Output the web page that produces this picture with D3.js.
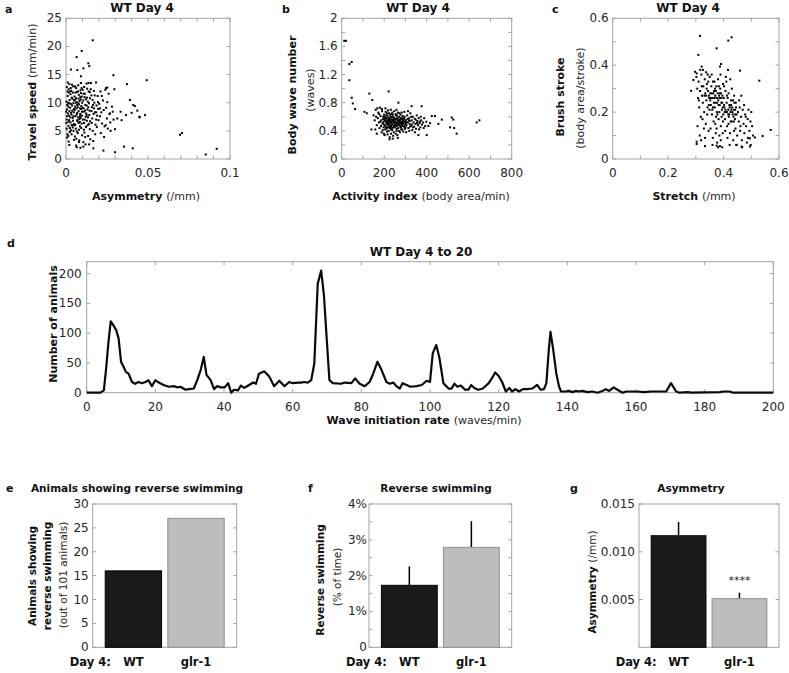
<!DOCTYPE html>
<html><head><meta charset="utf-8">
<script src="https://cdn.jsdelivr.net/npm/d3@7"></script>
<style>
body{margin:0;background:#fff;}
svg text{font-family:"DejaVu Sans",sans-serif;fill:#262626;}
.b{font-weight:bold;fill:#111;}
</style></head><body>
<svg id="c" width="789" height="673"></svg>
<script>
// ---------- DATA ----------
// a: Asymmetry (/mm) vs Travel speed (mm/min)
const asymSpeed = [
[0.0163,21.1],[0.0096,19.2],[0.0065,18.1],[0.0136,17.0],[0.0142,16.5],[0.0106,16.1],[0.003,15.9],[0.0069,15.8],
[0.0289,14.9],[0.0492,14.0],[0.0091,14.7],[0.0372,13.3],[0.0244,12.6],[0.0252,12.7],[0.039,10.5],[0.041,9.6],
[0.0333,8.4],[0.0366,7.8],[0.04,8.2],[0.0435,8.6],[0.0447,7.5],[0.042,9.4],[0.0482,7.8],[0.045,7.4],[0.0339,6.9],
[0.0299,5.3],[0.0695,4.3],[0.0707,4.6],[0.0919,1.8],[0.0852,0.8],[0.0407,1.9],[0.0354,2.2],[0.0299,1.2],[0.0228,1.5],
[0.0167,1.9],[0.0106,2.2],[0.0065,2.1],[0.002,2.5],[0.0049,3.4],[0.0014,4.1],[0.0313,7.2],[0.0268,8.1],[0.0207,9.0],
[0.0005,12.8],[0.001,11.2],[0.0008,9.6],[0.0012,8.1],[0.0004,7.0],[0.0015,5.9],[0.0009,4.4],[0.002,13.3],[0.0022,10.5],
[0.0025,9.1],[0.0018,7.7],[0.0028,6.5],[0.003,5.1],[0.0032,12.1],[0.0035,10.9],[0.0038,8.6],[0.004,7.3],[0.0042,11.8],
[0.0045,9.9],[0.0048,6.2],[0.0003,10.2],[0.0006,8.8],[0.0011,13.6],[0.0016,12.4],[0.0019,6.9],[0.0024,4.8],[0.0027,11.5],
[0.0033,7.9],[0.0037,9.5],[0.0041,5.6],[0.0044,12.9],[0.0047,8.3],[0.0002,6.4],[0.0013,10.0],[0.0021,8.5],[0.0029,9.8],
[0.0036,13.2],[0.0043,6.8],[0.0049,10.4],[0.0007,3.8],
[0.0052,11.1],[0.0055,9.3],[0.0058,7.6],[0.006,5.4],[0.0062,12.6],[0.0065,10.1],[0.0068,8.2],[0.007,6.7],[0.0072,4.6],
[0.0075,13.1],[0.0078,11.4],[0.008,9.7],[0.0082,7.1],[0.0085,5.8],[0.0088,12.2],[0.009,10.6],[0.0092,8.9],[0.0095,6.3],
[0.0098,4.2],[0.0053,8.7],[0.0057,6.1],[0.0063,3.6],[0.0067,11.9],[0.0071,9.2],[0.0074,7.4],[0.0079,5.2],[0.0083,10.3],
[0.0087,8.0],[0.0091,11.7],[0.0094,9.4],[0.0097,7.7],[0.0056,12.9],[0.0061,10.8],[0.0069,6.9],[0.0077,8.5],[0.0084,6.6],
[0.0093,5.5],[0.0099,10.0],[0.0066,4.9],[0.0081,3.3],
[0.0102,12.3],[0.0105,10.4],[0.0108,8.4],[0.011,6.4],[0.0112,4.7],[0.0115,11.6],[0.0118,9.6],[0.012,7.5],[0.0122,5.7],
[0.0125,13.4],[0.0128,10.9],[0.013,8.8],[0.0132,6.0],[0.0135,4.1],[0.0138,12.0],[0.014,9.9],[0.0142,7.8],[0.0145,5.3],
[0.0148,3.5],[0.0103,7.0],[0.0107,9.0],[0.0113,11.0],[0.0117,3.9],[0.0123,8.1],[0.0127,6.8],[0.0133,10.2],[0.0137,13.5],
[0.0143,8.6],[0.0147,6.7],[0.0111,12.8],
[0.0152,13.5],[0.0155,11.3],[0.0158,9.2],[0.016,7.2],[0.0163,5.0],[0.0166,3.2],[0.017,12.1],[0.0173,10.0],[0.0176,8.3],
[0.018,6.1],[0.0183,13.6],[0.0186,9.5],[0.019,7.7],[0.0193,11.2],[0.0196,8.9],[0.0168,8.0],[0.0178,4.4],[0.0188,5.7],
[0.0198,6.9],[0.0162,10.5],
[0.0203,9.8],[0.0207,7.6],[0.021,12.0],[0.0215,8.3],[0.022,6.3],[0.0225,10.4],[0.023,8.7],[0.0235,5.8],[0.024,12.3],
[0.0245,9.1],[0.025,7.2],[0.0255,5.4],[0.026,11.6],[0.0265,8.0],[0.027,6.5],[0.028,9.3],[0.029,7.0],[0.0295,12.4],
[0.0212,4.6],[0.0232,3.9],[0.0252,10.1],[0.0272,5.0],[0.0285,8.4],[0.0218,11.2],[0.0242,6.0],
[0.0014,9.3],[0.0026,7.4],[0.0039,10.7],[0.0051,6.0],[0.0064,9.0],[0.0076,10.7],[0.0089,7.3],[0.0101,9.1],[0.0114,7.0],
[0.0126,9.5],[0.0139,6.2],[0.0001,8.4],[0.0017,11.8],[0.0031,8.2],[0.0046,5.0],[0.0059,10.0],[0.0073,12.0],[0.0086,9.0],
[0.0096,11.1],[0.0109,5.2],[0.0121,10.6],[0.0134,7.4],[0.0146,10.8],[0.0157,6.4],[0.0171,9.0],[0.0184,7.0],[0.0023,5.5],
[0.0034,4.4],[0.0054,4.0],[0.0079,3.0],[0.0106,3.0],[0.0119,2.6],[0.0141,2.6],[0.0004,5.4],[0.0016,3.1],[0.0062,2.4],
[0.0088,2.0],[0.0129,12.5],[0.0151,12.4],[0.0091,13.5],
[0.0009,12.0],[0.0019,9.9],[0.0029,12.6],[0.0039,6.0],[0.0049,8.9],[0.0058,11.8],[0.0068,9.6],[0.0078,6.4],[0.0087,11.0],
[0.0097,8.4],[0.0107,11.6],[0.0116,8.6],[0.0126,7.8],[0.0136,9.2],[0.0145,11.9],[0.0155,8.5],[0.0165,9.6],[0.0175,11.3],
[0.0185,8.3],[0.0195,10.1],[0.0005,7.6],[0.0015,6.6],[0.0025,12.0],[0.0035,6.0],[0.0045,7.6],[0.0055,10.5],[0.0065,7.9],
[0.0075,9.9],[0.0085,7.6],[0.0095,12.6]
];
// b: Activity index (body area/min) vs Body wave number (waves)
const activityWave = [
[12,1.68],[20,1.68],[47,1.38],[36,1.35],[36,1.12],[47,0.87],[52,0.79],[63,0.71],[130,0.93],[144,0.84],[107,0.67],[118,0.65],
[221,0.96],[267,0.80],[329,0.75],[376,0.75],[424,0.61],[439,0.61],[471,0.56],[518,0.59],[525,0.56],[455,0.50],[416,0.51],
[408,0.47],[361,0.34],[400,0.34],[510,0.45],[529,0.44],[541,0.36],[635,0.52],[648,0.55],[322,0.46],[140,0.42],[165,0.36],
[150,0.62],[155,0.55],[160,0.70],[165,0.48],[170,0.58],[172,0.66],[175,0.52],[178,0.44],[180,0.73],[183,0.61],[186,0.55],
[188,0.38],[190,0.68],[192,0.50],[195,0.57],[197,0.45],[199,0.63],[158,0.42],[168,0.72],[185,0.47],[193,0.41],[176,0.64],
[162,0.60],[189,0.71],[198,0.36],
[201,0.54],[203,0.60],[205,0.47],[207,0.67],[209,0.52],[211,0.43],[213,0.58],[215,0.62],[217,0.49],[219,0.55],[221,0.40],
[223,0.65],[225,0.51],[227,0.57],[229,0.46],[231,0.70],[233,0.53],[235,0.60],[237,0.44],[239,0.49],[241,0.63],[243,0.55],
[245,0.38],[247,0.58],[249,0.50],[202,0.34],[206,0.72],[210,0.62],[214,0.39],[218,0.69],[222,0.56],[226,0.31],[230,0.59],
[234,0.47],[238,0.66],[242,0.33],[246,0.52],[204,0.57],[212,0.49],[220,0.52],[228,0.62],[236,0.56],[244,0.45],[248,0.68],
[216,0.35],[224,0.46],[232,0.42],[240,0.54],[208,0.45],[225,0.28],[240,0.29],[232,0.36],
[251,0.56],[253,0.47],[255,0.62],[257,0.52],[259,0.43],[261,0.58],[263,0.50],[265,0.66],[267,0.54],[269,0.40],[271,0.60],
[273,0.48],[275,0.55],[277,0.63],[279,0.45],[281,0.52],[283,0.58],[285,0.42],[287,0.61],[289,0.50],[291,0.55],[293,0.46],
[295,0.67],[297,0.53],[299,0.48],[254,0.36],[258,0.70],[262,0.34],[266,0.44],[270,0.52],[274,0.38],[278,0.51],[282,0.66],
[286,0.49],[290,0.39],[294,0.58],[298,0.43],[256,0.57],[264,0.30],[272,0.65],[280,0.57],[288,0.55],[296,0.60],[260,0.51],
[276,0.46],[284,0.53],
[302,0.55],[305,0.48],[308,0.62],[311,0.52],[314,0.44],[317,0.58],[320,0.50],[323,0.65],[326,0.47],[329,0.55],[332,0.41],
[335,0.60],[338,0.52],[341,0.46],[344,0.57],[347,0.50],[350,0.43],[353,0.62],[356,0.54],[359,0.48],[362,0.58],[366,0.51],
[370,0.45],[374,0.55],[378,0.49],[383,0.52],[388,0.58],[393,0.47],[398,0.53],[304,0.38],[312,0.68],[318,0.40],[327,0.60],
[336,0.45],[345,0.38],[354,0.51],[364,0.42],[372,0.60],[386,0.44],[310,0.57],[330,0.49],[348,0.56],[368,0.53],
[215,0.50],[225,0.54],[235,0.52],[245,0.56],[255,0.50],[265,0.48],[275,0.51],[285,0.47],[230,0.48],[250,0.45],[270,0.56],
[260,0.62],[240,0.60],[220,0.59],[210,0.55],[200,0.49],[195,0.52],[205,0.42],[290,0.52],[300,0.51],
[182,0.53],[196,0.60],[208,0.58],[214,0.53],[222,0.49],[228,0.54],[236,0.50],[244,0.59],[252,0.53],[258,0.47],[266,0.59],
[274,0.52],[282,0.49],[292,0.57],[306,0.52],[316,0.55],[226,0.44],[246,0.47],[262,0.55],[278,0.58],[234,0.64],[254,0.64],
[218,0.45],[238,0.41],[258,0.40],[280,0.42],[300,0.45],[320,0.54],[212,0.65],[268,0.50]
];
// c: Stretch (/mm) vs Brush stroke (body area/stroke)
const stretchBrush = [
[0.315,0.525],[0.309,0.444],[0.375,0.472],[0.417,0.505],[0.429,0.519],[0.391,0.405],[0.387,0.394],[0.459,0.377],
[0.529,0.334],[0.570,0.124],[0.541,0.098],[0.513,0.092],[0.495,0.088],[0.495,0.053],[0.465,0.053],[0.447,0.060],
[0.303,0.074],[0.303,0.064],[0.333,0.055],[0.375,0.057],[0.387,0.055],[0.283,0.291],[0.291,0.337],[0.297,0.372],
[0.303,0.365],[0.321,0.394],
[0.302,0.35],[0.305,0.30],[0.308,0.26],[0.31,0.33],[0.312,0.22],[0.315,0.29],[0.318,0.18],[0.32,0.36],[0.322,0.27],
[0.325,0.24],[0.327,0.31],[0.33,0.20],[0.332,0.34],[0.334,0.28],[0.336,0.15],[0.338,0.25],[0.34,0.32],[0.342,0.22],
[0.344,0.29],[0.346,0.12],[0.348,0.26],[0.35,0.35],[0.306,0.14],[0.314,0.10],[0.319,0.08],[0.324,0.17],[0.329,0.13],
[0.333,0.09],[0.337,0.37],[0.341,0.19],[0.345,0.33],[0.349,0.21],[0.316,0.38],[0.326,0.38],[0.331,0.27],[0.339,0.30],
[0.347,0.27],[0.311,0.25],[0.321,0.31],[0.343,0.36],
[0.352,0.28],[0.354,0.23],[0.356,0.31],[0.358,0.19],[0.36,0.26],[0.362,0.33],[0.364,0.16],[0.366,0.29],[0.368,0.22],
[0.37,0.27],[0.372,0.11],[0.374,0.31],[0.376,0.20],[0.378,0.26],[0.38,0.34],[0.382,0.17],[0.384,0.27],[0.386,0.23],
[0.388,0.30],[0.39,0.14],[0.392,0.26],[0.394,0.21],[0.396,0.27],[0.398,0.32],[0.353,0.13],[0.357,0.36],[0.361,0.09],
[0.365,0.24],[0.369,0.30],[0.373,0.18],[0.377,0.07],[0.381,0.25],[0.385,0.20],[0.389,0.36],[0.393,0.18],[0.397,0.11],
[0.355,0.26],[0.363,0.28],[0.371,0.24],[0.379,0.28],[0.387,0.26],[0.395,0.24],[0.359,0.21],[0.367,0.33],[0.375,0.26],
[0.383,0.31],[0.391,0.28],[0.399,0.19],[0.36,0.06],[0.37,0.15],[0.38,0.05],[0.39,0.08],[0.375,0.13],[0.385,0.10],[0.395,0.05],
[0.401,0.26],[0.403,0.22],[0.405,0.17],[0.407,0.29],[0.409,0.20],[0.411,0.24],[0.413,0.14],[0.415,0.26],[0.417,0.21],
[0.419,0.18],[0.421,0.23],[0.423,0.11],[0.425,0.20],[0.427,0.25],[0.429,0.16],[0.431,0.22],[0.433,0.19],[0.435,0.08],
[0.437,0.21],[0.439,0.24],[0.441,0.17],[0.443,0.13],[0.445,0.22],[0.447,0.19],[0.449,0.10],[0.402,0.31],[0.406,0.12],
[0.41,0.33],[0.414,0.09],[0.418,0.28],[0.422,0.06],[0.426,0.16],[0.43,0.30],[0.434,0.25],[0.438,0.12],[0.442,0.21],
[0.446,0.06],[0.404,0.20],[0.412,0.20],[0.42,0.19],[0.428,0.21],[0.436,0.18],[0.444,0.24],[0.408,0.35],[0.416,0.38],[0.424,0.34],
[0.452,0.20],[0.455,0.16],[0.458,0.22],[0.46,0.12],[0.463,0.18],[0.466,0.08],[0.469,0.21],[0.472,0.15],[0.475,0.11],
[0.478,0.19],[0.481,0.14],[0.484,0.07],[0.487,0.17],[0.49,0.21],[0.493,0.12],[0.497,0.16],[0.5,0.20],[0.503,0.14],
[0.506,0.10],[0.456,0.25],[0.464,0.27],[0.474,0.23],[0.488,0.09],[0.498,0.06],[0.461,0.14],[0.467,0.05],[0.48,0.18],
[0.352,0.25],[0.362,0.22],[0.372,0.29],[0.382,0.23],[0.392,0.24],[0.402,0.23],[0.412,0.27],[0.422,0.22],[0.432,0.20],
[0.442,0.19],[0.357,0.28],[0.367,0.26],[0.377,0.24],[0.387,0.28],[0.397,0.22],[0.407,0.21],[0.417,0.19],[0.427,0.23],
[0.437,0.16],[0.347,0.23],[0.337,0.27],[0.378,0.19],[0.398,0.16],[0.418,0.15],[0.438,0.27]
];
// d: Wave initiation rate (waves/min) vs Number of animals
const waveRate = [
[0,0],[4,0],[5,4],[5.7,43],[6.3,83],[7,120],[7.8,113],[8.6,105],[9.3,91],[10,52],[10.7,44],[11.4,35],[12.2,32],[13.2,18],
[14.1,15],[15.1,18],[16.1,16],[17.1,18],[18,21],[19,11],[20,21],[21,17],[22.4,13],[23.9,10],[25.4,11],[26.3,9],[27.3,10],
[28.8,5],[29.8,6],[31.2,7],[32.2,21],[33.2,38],[34.1,60],[34.9,30],[36.1,21],[37.1,6],[38,11],[39,9],[40.2,9],[41.2,16],
[42.1,0],[42.9,5],[44.1,4],[44.9,12],[45.9,8],[47.3,13],[48.5,17],[49.3,15],[50.2,32],[51.7,36],[53.2,27],[54.6,11],
[56.1,20],[57.6,11],[59,18],[60,16],[61.5,17],[62.4,17],[63.4,18],[64.4,17],[65.4,21],[66.3,49],[67.3,183],[68.3,205],
[69.1,164],[70,83],[70.7,21],[71.7,16],[74.1,15],[75.1,17],[77.1,16],[78.2,24],[79.5,15],[81,11],[82.4,18],[83.4,31],
[84.7,52],[85.9,38],[87.3,18],[88.3,15],[89.3,17],[90.2,11],[91.2,7],[92,16],[93.2,13],[94.3,10],[96.1,11],[97.6,13],
[99,20],[100,18],[100.8,66],[101.8,80],[102.7,60],[103.9,16],[105.4,7],[106.3,7],[107.1,15],[108,10],[109,12],[110.2,5],
[111.2,5],[112,13],[112.9,8],[114,5],[115.4,7],[117.1,16],[118,24],[119,34],[120,28],[121,18],[122.1,2],[123.1,8],
[123.9,2],[124.9,6],[125.9,2],[127.1,6],[128.3,6],[129.8,7],[131.2,13],[132.2,5],[133.2,6],[133.9,16],[134.6,72],
[135.1,102],[135.9,72],[136.8,32],[137.6,10],[138.2,2],[139.5,2],[140.5,3],[141.5,1],[142.4,3],[143.4,2],[144.4,3],
[145.9,1],[147.3,2],[148.8,0],[150.2,3],[151.2,6],[152.2,3],[153.5,9],[154.6,5],[156.1,0],[157.1,2],[158.5,2],[160.5,2],
[162.4,1],[164.4,2],[166.3,2],[168.8,2],[170.2,16],[171.7,2],[172.7,0],[175.1,1],[176.1,0],[184.4,1],[185.5,2],[187.3,2],
[188.3,0],[200,0]
];
// e, f, g: bar charts
const strains = ["WT", "glr-1"];
const animalsReverse = [16, 27];          // out of 101 animals
const reversePct = [1.73, 2.79];          // % of time
const reversePctErr = [0.53, 0.73];
const asymMean = [0.01168, 0.00509];      // /mm
const asymErr = [0.00144, 0.00063];
// tick labels
const aXLabels = ["0","0.05","0.1"], aYLabels = ["0","5","10","15","20","25"];
const bXLabels = ["0","200","400","600","800"], bYLabels = ["0","0.4","0.8","1.2","1.6","2"];
const cLabels = ["0","0.2","0.4","0.6"];
const dXLabels = ["0","20","40","60","80","100","120","140","160","180","200"], dYLabels = ["0","50","100","150","200"];
const eYLabels = ["0","5","10","15","20","25","30"];
const fYLabels = ["0","1%","2%","3%","4%"];
const gYLabels = ["0.005","0.010","0.015"];

// ---------- DRAWING ----------
const svg = d3.select("#c");
const BOX = "#a3a3a3", TL = 3.5, TICKFS = 12;

function frame(x, y, xt, yt, xl, yl, ygap) {
  const [x0, x1] = x.range(), [y0, y1] = y.range();
  const g = svg.append("g");
  g.append("rect").attr("x", x0).attr("y", y1).attr("width", x1 - x0).attr("height", y0 - y1)
    .attr("fill", "none").attr("stroke", BOX).attr("stroke-width", 1);
  (xt || []).forEach(v => {
    const px = x(v);
    g.append("line").attr("x1", px).attr("x2", px).attr("y1", y0).attr("y2", y0 - TL).attr("stroke", BOX);
    g.append("line").attr("x1", px).attr("x2", px).attr("y1", y1).attr("y2", y1 + TL).attr("stroke", BOX);
  });
  (yt || []).forEach(v => {
    const py = y(v);
    g.append("line").attr("x1", x0).attr("x2", x0 + TL).attr("y1", py).attr("y2", py).attr("stroke", BOX);
    g.append("line").attr("x1", x1).attr("x2", x1 - TL).attr("y1", py).attr("y2", py).attr("stroke", BOX);
  });
  (xl || []).forEach(s => {
    g.append("text").attr("x", x(+s)).attr("y", y0 + 14).attr("text-anchor", "middle")
      .attr("dominant-baseline", "central").attr("font-size", TICKFS).text(s);
  });
  (yl || []).forEach(s => {
    const v = s.endsWith("%") ? parseFloat(s) : +s;
    g.append("text").attr("x", x0 - (ygap || 4)).attr("y", y(v)).attr("text-anchor", "end")
      .attr("dominant-baseline", "central").attr("font-size", TICKFS).text(s);
  });
  return g;
}
function txt(x, y, parts, size, anchor, rot) {
  const t = svg.append("text").attr("x", x).attr("y", y).attr("text-anchor", anchor || "middle")
    .attr("font-size", size);
  if (rot) t.attr("transform", `rotate(-90 ${x} ${y})`);
  parts.forEach(p => t.append("tspan").attr("class", p[1] ? "b" : null).text(p[0]));
  return t;
}
function dots(data, x, y) {
  svg.append("g").selectAll("rect").data(data).join("rect")
    .attr("x", d => x(d[0]) - 1).attr("y", d => y(d[1]) - 1).attr("width", 2).attr("height", 2).attr("fill", "#000");
}

// Panel a
const ax = d3.scaleLinear().domain([0, 0.1]).range([66, 230]);
const ay = d3.scaleLinear().domain([0, 25]).range([159, 18.3]);
frame(ax, ay, d3.range(0, 0.1001, 0.01), d3.range(0, 26, 5), aXLabels, aYLabels);
dots(asymSpeed, ax, ay);
txt(142, 12, [["WT Day 4", 1]], 12);
txt(146, 200, [["Asymmetry ", 1], ["(/mm)", 0]], 11);
txt(36, 92, [["Travel speed ", 1], ["(mm/min)", 0]], 11, "middle", true);
txt(5, 13, [["a", 1]], 11, "start");

// Panel b
const bx = d3.scaleLinear().domain([0, 800]).range([341.7, 511.7]);
const by = d3.scaleLinear().domain([0, 2]).range([159, 18.3]);
frame(bx, by, d3.range(0, 801, 100), d3.range(0, 2.01, 0.2), bXLabels, bYLabels);
dots(activityWave, bx, by);
txt(418, 12, [["WT Day 4", 1]], 12);
txt(421, 200, [["Activity index ", 1], ["(body area/min)", 0]], 11);
txt(296, 95, [["Body wave number", 1]], 11, "middle", true);
txt(314, 90, [["(waves)", 0]], 11, "middle", true);
txt(282, 13, [["b", 1]], 11, "start");

// Panel c
const cx = d3.scaleLinear().domain([0, 0.6]).range([612.7, 779]);
const cy = d3.scaleLinear().domain([0, 0.6]).range([159, 18.3]);
frame(cx, cy, d3.range(0, 0.601, 0.1), d3.range(0, 0.601, 0.1), cLabels, cLabels);
dots(stretchBrush, cx, cy);
txt(688, 12, [["WT Day 4", 1]], 12);
txt(694, 200, [["Stretch ", 1], ["(/mm)", 0]], 11);
txt(564, 97, [["Brush stroke", 1]], 11, "middle", true);
txt(584, 98, [["(body area/stroke)", 0]], 11, "middle", true);
txt(552, 13, [["c", 1]], 11, "start");

// Panel d
const dx = d3.scaleLinear().domain([0, 200]).range([86.7, 773.3]);
const dy = d3.scaleLinear().domain([0, 220]).range([392.7, 261.7]);
frame(dx, dy, d3.range(0, 201, 20), d3.range(0, 201, 50), dXLabels, dYLabels, 5);
svg.append("path").datum(waveRate)
  .attr("d", d3.line().x(d => dx(d[0])).y(d => dy(d[1])))
  .attr("fill", "none").attr("stroke", "#0a0a0a").attr("stroke-width", 2.2).attr("stroke-linejoin", "round");
txt(421, 256, [["WT Day 4 to 20", 1]], 12);
txt(424, 424, [["Wave initiation rate ", 1], ["(waves/min)", 0]], 11);
txt(57, 324, [["Number of animals", 1]], 11, "middle", true);
txt(7, 247, [["d", 1]], 11, "start");

// Bar panels
function bars(x0, x1, yDom, vals, errs, yt, yl, ygap) {
  const x = d3.scaleBand().domain(strains).range([x0, x1]).paddingInner(0.1).paddingOuter(0.2);
  const y = d3.scaleLinear().domain(yDom).range([647.3, 504]);
  const g = frame(d3.scaleLinear().range([x0, x1]), y, [], yt, [], yl, ygap);
  const colors = ["#1a1a1a", "#bdbdbd"], strokes = ["#000", "#8f8f8f"];
  strains.forEach((s, i) => {
    if (errs) svg.append("line").attr("x1", x(s) + x.bandwidth() / 2).attr("x2", x(s) + x.bandwidth() / 2)
      .attr("y1", y(vals[i])).attr("y2", y(vals[i] + errs[i])).attr("stroke", "#000").attr("stroke-width", 1.5);
    svg.append("rect").attr("x", x(s)).attr("y", y(vals[i])).attr("width", x.bandwidth())
      .attr("height", y(yDom[0]) - y(vals[i])).attr("fill", colors[i]).attr("stroke", strokes[i]).attr("stroke-width", 1);
    txt(x(s) + x.bandwidth() / 2, 666, [[s, 1]], 11.5);
  });
  txt(x(strains[0]) - 15, 666, [["Day 4:", 1]], 11.5);
  return {x, y};
}
// e
bars(92.7, 236.7, [0, 30], animalsReverse, null, d3.range(0, 31, 5), eYLabels);
txt(137, 492, [["Animals showing reverse swimming", 1]], 10.5);
txt(35.5, 576, [["Animals showing", 1]], 10.5, "middle", true);
txt(50.5, 576, [["reverse swimming", 1]], 10.5, "middle", true);
txt(67, 575, [["(out of 101 animals)", 0]], 10.5, "middle", true);
txt(6, 492, [["e", 1]], 11, "start");
// f
bars(369, 511.7, [0, 4], reversePct, reversePctErr, d3.range(0, 4.01, 0.5), fYLabels, 2);
txt(436, 492, [["Reverse swimming", 1]], 10.5);
txt(324, 580, [["Reverse swimming", 1]], 10.5, "middle", true);
txt(340.5, 577, [["(% of time)", 0]], 10.5, "middle", true);
txt(308, 492, [["f", 1]], 11, "start");
// g
const G = bars(639, 779, [0, 0.015], asymMean, asymErr, [0.005, 0.010, 0.015], gYLabels);
txt(G.x("glr-1") + G.x.bandwidth() / 2, G.y(asymMean[1] + asymErr[1]) - 9, [["****", 0]], 11);
txt(691, 492, [["Asymmetry", 1]], 10.5);
txt(595.5, 582, [["Asymmetry ", 1], ["(/mm)", 0]], 10.5, "middle", true);
txt(570, 492, [["g", 1]], 11, "start");
</script>
</body></html>
